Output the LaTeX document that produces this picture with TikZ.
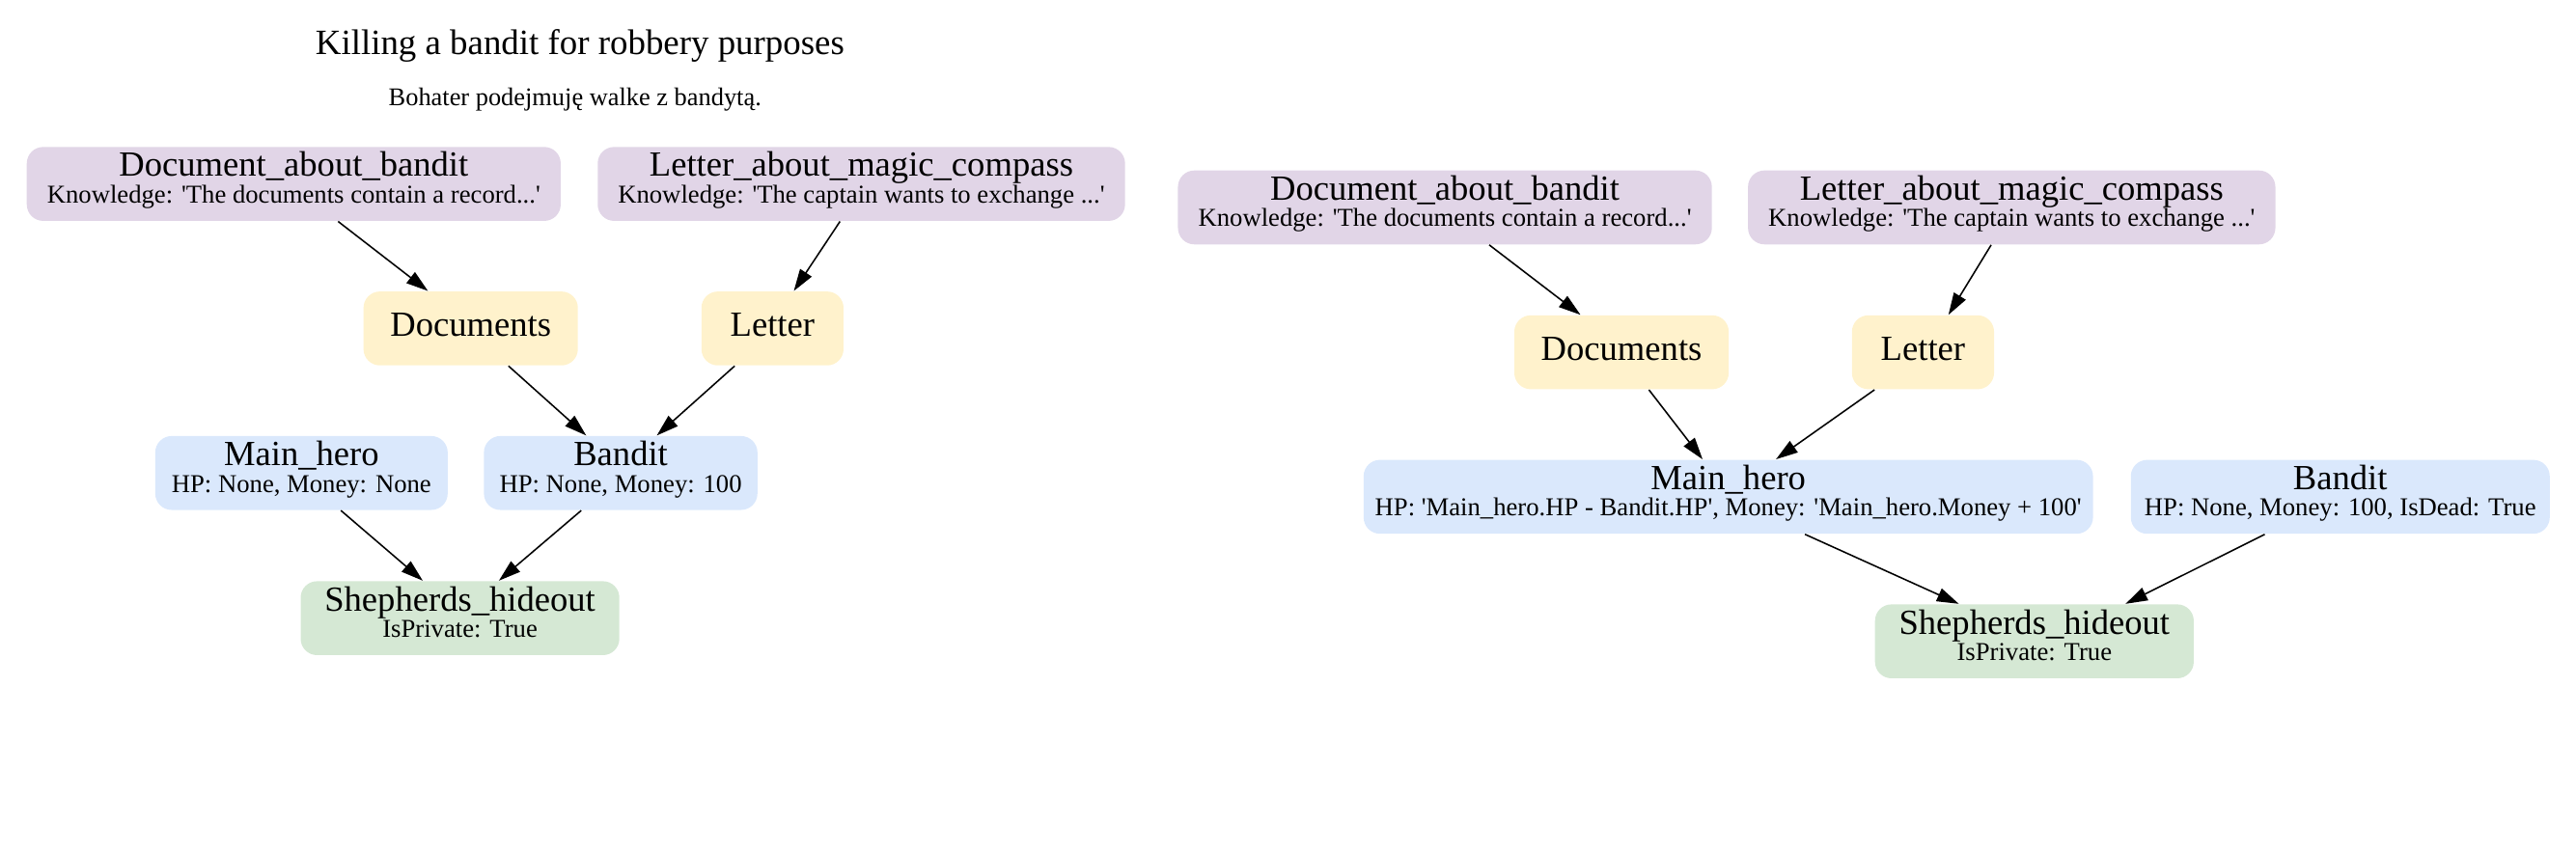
\documentclass[tikz,border=0pt]{standalone}
\usepackage{fontspec}
\setmainfont{Liberation Serif}
\usetikzlibrary{arrows.meta,calc}
\definecolor{knowc}{HTML}{E1D5E7}
\definecolor{thingc}{HTML}{FFF2CC}
\definecolor{personc}{HTML}{DAE8FC}
\definecolor{locc}{HTML}{D5E8D4}
\newcommand{\twol}[2]{{\fontsize{12.9}{9.7}\selectfont\rule{0pt}{9pt}#1}\\{\rule[-4.7pt]{0pt}{1pt}#2}}
\newcommand{\onel}[1]{{\fontsize{12.9}{9.7}\selectfont\rule[-2.8pt]{0pt}{11.6pt}#1}}
\newcommand{\q}{\textquotesingle}
\begin{document}
\begin{tikzpicture}[x=0.6pt,y=-0.6pt,
  obj/.style={rectangle, rounded corners=6pt, draw=none, inner sep=0pt, minimum height=27pt, align=center, font=\fontsize{9.4}{9.7}\selectfont},
  know/.style={obj, fill=knowc},
  thing/.style={obj, fill=thingc},
  person/.style={obj, fill=personc},
  loc/.style={obj, fill=locc},
  conn/.style={-{Triangle[length=8pt,width=5pt]}, line width=0.55pt, black}
]
\useasboundingbox (0,0) rectangle (1568,517.6);

\node[anchor=base, font=\fontsize{13}{15}\selectfont] (title) at (353,33.3) {Killing a bandit for robbery purposes};
\node[anchor=base, font=\fontsize{9.3}{11}\selectfont] (subtitle) at (350,64.6) {Bohater podejmuję walke z bandytą.};

% left graph
\node[know, minimum width=195pt] (db1) at (178.8,112) {\twol{Document\_about\_bandit}{Knowledge: \q The documents contain a record...\q}};
\node[know, minimum width=192.6pt] (lb1) at (524.3,112) {\twol{Letter\_about\_magic\_compass}{Knowledge: \q The captain wants to exchange ...\q}};
\node[thing, minimum width=78.3pt] (doc1) at (286.5,200) {\onel{Documents}};
\node[thing, minimum width=51.9pt] (let1) at (470.2,200) {\onel{Letter}};
\node[person, minimum width=106.8pt] (mh1) at (183.5,288) {\twol{Main\_hero}{HP: None, Money: None}};
\node[person, minimum width=99.9pt] (ban1) at (377.8,288) {\twol{Bandit}{HP: None, Money: 100}};
\node[loc, minimum width=116.4pt] (sh1) at (280,376.4) {\twol{Shepherds\_hideout}{IsPrivate: True}};

\draw[conn] ([xshift=16.2pt]db1.south) -- ([xshift=-15.6pt]doc1.north);
\draw[conn] ([xshift=-7.8pt]lb1.south) -- ([xshift=7.8pt]let1.north);
\draw[conn] ([xshift=13.8pt]doc1.south) -- ([xshift=-12.6pt]ban1.north);
\draw[conn] ([xshift=-13.8pt]let1.south) -- ([xshift=13.2pt]ban1.north);
\draw[conn] ([xshift=14.4pt]mh1.south) -- ([xshift=-13.6pt]sh1.north);
\draw[conn] ([xshift=-14.4pt]ban1.south) -- ([xshift=14.2pt]sh1.north);

% right graph
\node[know, minimum width=195pt] (db2) at (879.5,126.3) {\twol{Document\_about\_bandit}{Knowledge: \q The documents contain a record...\q}};
\node[know, minimum width=192.6pt] (lb2) at (1224.5,126.3) {\twol{Letter\_about\_magic\_compass}{Knowledge: \q The captain wants to exchange ...\q}};
\node[thing, minimum width=78.3pt] (doc2) at (987,214.5) {\onel{Documents}};
\node[thing, minimum width=51.9pt] (let2) at (1170.5,214.5) {\onel{Letter}};
\node[person, minimum width=266.4pt] (mh2) at (1052,302.5) {\twol{Main\_hero}{HP: \q Main\_hero.HP - Bandit.HP\q, Money: \q Main\_hero.Money + 100\q}};
\node[person, minimum width=153pt] (ban2) at (1424.5,302.5) {\twol{Bandit}{HP: None, Money: 100, IsDead: True}};
\node[loc, minimum width=116.4pt] (sh2) at (1238.3,390.5) {\twol{Shepherds\_hideout}{IsPrivate: True}};

\draw[conn] ([xshift=16.2pt]db2.south) -- ([xshift=-15pt]doc2.north);
\draw[conn] ([xshift=-7.5pt]lb2.south) -- ([xshift=9.3pt]let2.north);
\draw[conn] ([xshift=10pt]doc2.south) -- ([xshift=-9.4pt]mh2.north);
\draw[conn] ([xshift=-17.7pt]let2.south) -- ([xshift=17.4pt]mh2.north);
\draw[conn] ([xshift=28pt]mh2.south) -- ([xshift=-27.6pt]sh2.north);
\draw[conn] ([xshift=-27.6pt]ban2.south) -- ([xshift=33.3pt]sh2.north);
\end{tikzpicture}
\end{document}
